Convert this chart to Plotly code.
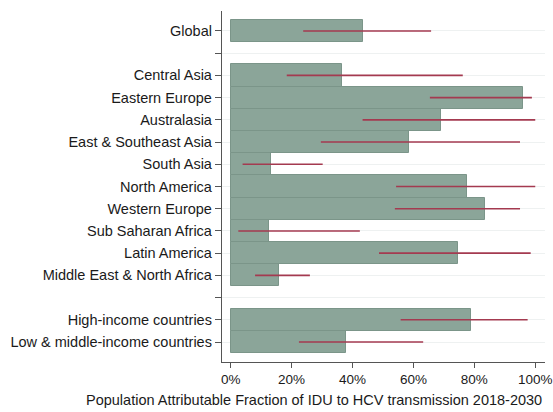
import plotly.graph_objects as go

# Rows from top to bottom; empty strings are spacer rows between groups
categories = [
    "Global", "",
    "Central Asia", "Eastern Europe", "Australasia", "East & Southeast Asia",
    "South Asia", "North America", "Western Europe", "Sub Saharan Africa",
    "Latin America", "Middle East & North Africa", "",
    "High-income countries", "Low & middle-income countries",
]
# Population attributable fraction (%) and 95% uncertainty interval
paf = [43.3, None, 36.5, 96.1, 69.1, 58.5, 13.2, 77.5, 83.5, 12.7, 74.6, 15.9, None, 79.0, 38.0]
paf_low = [23.8, None, 18.4, 65.4, 43.3, 29.6, 3.9, 54.3, 53.9, 2.5, 48.7, 8.0, None, 55.8, 22.4]
paf_high = [65.8, None, 76.2, 98.9, 100.0, 95.0, 30.2, 100.0, 95.0, 42.4, 98.5, 26.0, None, 97.5, 63.2]
x_ticks = [0, 20, 40, 60, 80, 100]
x_tick_labels = [f"{v}%" for v in x_ticks]
x_title = "Population Attributable Fraction of IDU to HCV transmission 2018-2030"

rows = list(range(len(categories)))
bar_rows = [r for r in rows if paf[r] is not None]

fig = go.Figure()
fig.add_trace(go.Bar(
    x=[paf[r] for r in bar_rows],
    y=bar_rows,
    orientation="h",
    width=1.0,
    marker=dict(color="#8ba599", line=dict(color="#7b9589", width=1)),
    hoverinfo="x+y",
))

# Uncertainty intervals as plain horizontal segments
seg_x, seg_y = [], []
for r in bar_rows:
    seg_x += [paf_low[r], paf_high[r], None]
    seg_y += [r, r, None]
fig.add_trace(go.Scatter(
    x=seg_x, y=seg_y, mode="lines",
    line=dict(color="#a43a50", width=1.6),
    hoverinfo="skip",
))

fig.update_layout(
    width=553, height=412,
    margin=dict(l=222, r=8, t=11, b=50, autoexpand=False),
    paper_bgcolor="white", plot_bgcolor="white",
    showlegend=False,
    bargap=0,
    font=dict(family="Liberation Sans, Arial, sans-serif", size=14.5, color="#1a1a1a"),
)
fig.update_yaxes(
    tickmode="array", tickvals=rows, ticktext=categories,
    range=[14.9, -0.9],
    showgrid=True, gridcolor="#eef1f1", gridwidth=1,
    showline=True, linecolor="#555555", linewidth=1.3,
    ticks="outside", ticklen=6, tickcolor="#555555", tickwidth=1.3,
    zeroline=False, automargin=False,
    tickfont=dict(size=14.5),
)
fig.update_xaxes(
    tickmode="array", tickvals=x_ticks, ticktext=x_tick_labels,
    range=[-2.86, 103.2],
    showgrid=False, zeroline=False, automargin=False,
    showline=True, linecolor="#555555", linewidth=1.3,
    ticks="outside", ticklen=5, tickcolor="#555555", tickwidth=1.3,
    tickfont=dict(size=13.5),
    ticklabeloverflow="allow",
)

# Axis title placed as an annotation so it can sit left of the plot centre
fig.add_annotation(
    text=x_title, showarrow=False,
    xref="paper", yref="paper",
    x=(313.5 - 222) / 323, y=-(400.5 - 362) / 351,
    xanchor="center", yanchor="middle",
    font=dict(size=14.5),
)

fig.write_html("out.html")
